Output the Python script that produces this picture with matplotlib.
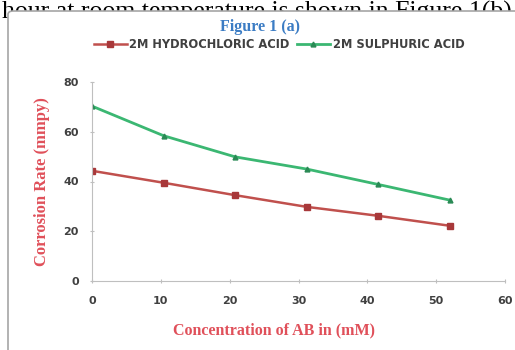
import matplotlib.pyplot as plt
from matplotlib.patches import FancyBboxPatch

# data
conc = [0, 10.4, 20.8, 31.2, 41.6, 52]
hcl = [44.3, 39.5, 34.5, 29.8, 26.2, 22.2]
h2so4 = [70.3, 58.4, 49.9, 45.0, 38.8, 32.5]
xticks = [0, 10, 20, 30, 40, 50, 60]
yticks = [0, 20, 40, 60, 80]

fig = plt.figure(figsize=(5.15, 3.5), dpi=100)

# document text, partly hidden behind the chart box
doc = fig.text(2 / 515, 1 - 1 / 350, "hour at room temperature is shown in Figure 1(b)",
               family="Liberation Serif", fontsize=18.5, va="top", ha="left", zorder=0)

frame = FancyBboxPatch((8 / 515, -0.05), 1.2, 1.0 - 11 / 350 + 0.05,
                       boxstyle="round,pad=0,rounding_size=0.01",
                       transform=fig.transFigure, facecolor="white",
                       edgecolor="#a6a6a6", linewidth=1.2, zorder=1)
fig.patches.append(frame)

ax = fig.add_axes([92 / 515, 1 - 281 / 350, 413 / 515, 199 / 350])
ax.set_facecolor("none")
ax.set_zorder(2)

ax.plot(conc, hcl, color="#c0504d", lw=1.8, marker="s", ms=5,
        mfc="#a8383a", mec="#a8383a", label="2M HYDROCHLORIC ACID")
ax.plot(conc, h2so4, color="#3bb772", lw=2.0, marker="^", ms=3.5,
        mfc="#2a8a55", mec="#2a8a55", label="2M SULPHURIC ACID")

ax.set_xlim(0, 60)
ax.set_ylim(0, 80)
ax.set_xticks(xticks)
ax.set_yticks(yticks)
ax.tick_params(labelsize=8, colors="#bfbfbf", labelcolor="#404040",
               length=3, direction="inout")
for lab in ax.get_xticklabels() + ax.get_yticklabels():
    lab.set_fontweight("bold")
ax.tick_params(axis="x", pad=9)
ax.tick_params(axis="y", pad=8)
for s in ["top", "right"]:
    ax.spines[s].set_visible(False)
for s in ["left", "bottom"]:
    ax.spines[s].set_color("#bfbfbf")

ax.set_xlabel("Concentration of AB in (mM)", family="Liberation Serif",
              fontweight="bold", color="#e0505a", fontsize=11.5, va="center")
ax.xaxis.set_label_coords((274 - 92) / 413, (281 - 330) / 199)
ax.set_ylabel("Corrosion Rate (mmpy)", family="Liberation Serif",
              fontweight="bold", color="#e0505a", fontsize=12, va="center")
ax.yaxis.set_label_coords((42 - 92) / 413, 0.5)

fig.text(260 / 515, 1 - 27 / 350, "Figure 1 (a)", family="Liberation Serif",
         fontweight="bold", color="#3b7cc4", fontsize=11.5, ha="center", va="center")

leg = fig.legend(loc="center", bbox_to_anchor=(279 / 515, 1 - 45 / 350), ncol=2,
                 frameon=False, handlelength=2.9, columnspacing=0.6,
                 handletextpad=0.2, prop={"weight": "bold", "size": 8.3})
for t in leg.get_texts():
    t.set_color("#404040")

fig.savefig("out.png", dpi=100)
